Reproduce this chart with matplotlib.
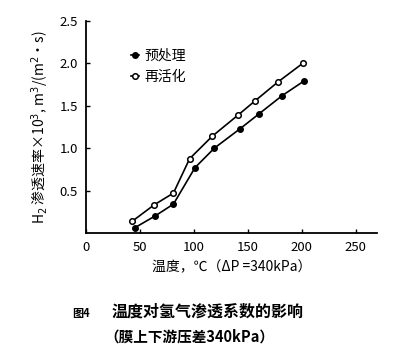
import numpy as np
import matplotlib.pyplot as plt

plt.rcParams['font.family'] = ['Noto Sans CJK SC', 'DejaVu Sans']

# 预处理 (filled)
t_pre = [45, 64, 81, 101, 119, 143, 160, 182, 202]
h_pre = [0.06, 0.20, 0.34, 0.77, 1.00, 1.23, 1.40, 1.62, 1.79]
# 再活化 (open)
t_re = [43, 63, 81, 96, 117, 141, 157, 178, 201]
h_re = [0.14, 0.33, 0.47, 0.875, 1.14, 1.39, 1.56, 1.78, 2.00]

xticks = [0, 50, 100, 150, 200, 250]
yticks = [0.5, 1.0, 1.5, 2.0, 2.5]

fig = plt.figure(figsize=(3.97, 3.60), dpi=100)
ax = fig.add_axes([0.217, 0.353, 0.733, 0.589])

ax.plot(t_pre, h_pre, color='black', lw=1.2, marker='o', ms=4,
        mfc='black', mec='black', label='预处理')
ax.plot(t_re, h_re, color='black', lw=1.2, marker='o', ms=4,
        mfc='white', mec='black', mew=1.1, label='再活化')

ax.set_xlim(0, 270)
ax.set_ylim(0, 2.5)
ax.set_xticks(xticks)
ax.set_yticks(yticks)
ax.set_yticklabels(['0.5', '1.0', '1.5', '2.0', '2.5'])
ax.tick_params(direction='in', length=3, width=1, labelsize=9.5, pad=6)
for s in ['top', 'right']:
    ax.spines[s].set_visible(False)
for s in ['left', 'bottom']:
    ax.spines[s].set_linewidth(1.3)

ax.set_ylabel('H$_2$ 渗透速率×10$^3$, m$^3$/(m$^2$·s)', fontsize=10, labelpad=6)
ax.set_xlabel('温度，℃（ΔP =340kPa）', fontsize=10, labelpad=4)

ax.legend(loc='upper left', bbox_to_anchor=(0.13, 0.9), frameon=False,
          handlelength=0.6, handletextpad=0.4, labelspacing=0.5,
          fontsize=10, borderpad=0)

fig.text(0.183, 0.12, '图4', fontsize=8, fontweight='bold')
fig.text(0.28, 0.12, '温度对氢气渗透系数的影响', fontsize=11.5, fontweight='bold')
fig.text(0.262, 0.052, '（膜上下游压差340kPa）', fontsize=10.5, fontweight='bold')

fig.savefig('out.png', dpi=100)
